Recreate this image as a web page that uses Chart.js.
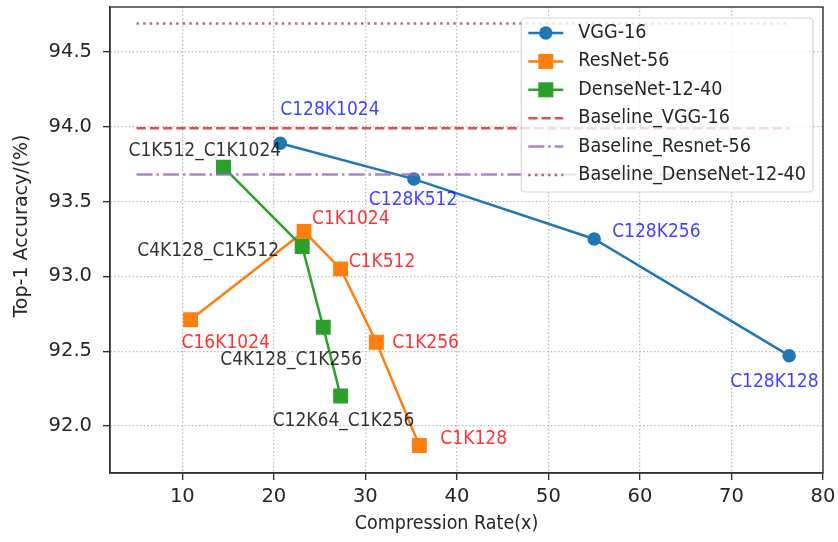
<!DOCTYPE html>
<html><head><meta charset="utf-8">
<script src="https://cdn.jsdelivr.net/npm/chart.js@4/dist/chart.umd.min.js"></script>
<style>html,body{margin:0;padding:0;background:#fff;} #wrap{width:838px;height:542px;}</style>
</head><body><div id="wrap"><canvas id="c" width="838" height="542"></canvas></div>
<script>
// ---- data ----
const vggLabels = ['C128K1024', 'C128K512', 'C128K256', 'C128K128'];
const vggX = [20.7, 35.3, 55.0, 76.3];
const vggY = [93.89, 93.65, 93.25, 92.47];

const resLabels = ['C16K1024', 'C1K1024', 'C1K512', 'C1K256', 'C1K128'];
const resX = [10.9, 23.3, 27.3, 31.2, 35.9];
const resY = [92.71, 93.30, 93.05, 92.56, 91.87];

const denseLabels = ['C1K512_C1K1024', 'C4K128_C1K512', 'C4K128_C1K256', 'C12K64_C1K256'];
const denseX = [14.5, 23.1, 25.4, 27.3];
const denseY = [93.73, 93.20, 92.66, 92.20];

const baselineX = [5, 76.3];
const baseVGG = 93.99;
const baseRes = 93.68;
const baseDense = 94.69;

const xTicks = [10, 20, 30, 40, 50, 60, 70, 80];
const yTicks = [92.0, 92.5, 93.0, 93.5, 94.0, 94.5];

const seriesNames = ['VGG-16', 'ResNet-56', 'DenseNet-12-40', 'Baseline_VGG-16', 'Baseline_Resnet-56', 'Baseline_DenseNet-12-40'];

// ---- styling (not data) ----
const FONT = '"DejaVu Sans", "Liberation Sans", sans-serif';
const FONT_C = '"DejaVu Sans Condensed", "DejaVu Sans", sans-serif';
const FS_TICK = 19.5, FS_ANN = 19, FS_LEG = 19.6, FS_XT = 19.5, FS_YT = 19;
const C_BLUE = '#1f77b4', C_ORANGE = '#ff7f0e', C_GREEN = '#2ca02c';
const C_RED = 'rgba(214,39,40,0.8)', C_PURPLE = 'rgba(148,103,189,0.8)', C_BROWN = 'rgba(140,86,75,0.8)';
const LW = 2.5;
const DASH_RED = [9.25, 4];
const DASH_PURPLE = [16, 4, 2.5, 4];
const DASH_BROWN = [2.5, 4.1];
const TXT = '#262626';

// label offsets in pixels: text left edge and vertical middle relative to the point
const vggOff = [[0, -33], [-45, 21], [18, -7], [-59, 26]];
const resOff = [[-9, 23], [8, -12], [8, -7], [16, 1], [21, -6]];
const denseOff = [[-95, -16], [-165, 5], [-103, 33], [-68, 25]];
const LBL_BLUE = 'rgba(0,0,255,0.75)', LBL_RED = 'rgba(255,0,0,0.8)', LBL_BLACK = 'rgba(0,0,0,0.8)';

const pts = (xs, ys) => xs.map((x, i) => ({x: x, y: ys[i]}));
const flat = (y) => baselineX.map(x => ({x: x, y: y}));

const datasets = [
  {label: seriesNames[0], data: pts(vggX, vggY), borderColor: C_BLUE, backgroundColor: C_BLUE,
   borderWidth: LW, pointStyle: 'circle', pointRadius: 6, pointBorderWidth: 1.5, order: 6},
  {label: seriesNames[1], data: pts(resX, resY), borderColor: C_ORANGE, backgroundColor: C_ORANGE,
   borderWidth: LW, pointStyle: 'rect', pointRadius: 9.5, pointBorderWidth: 1.5, order: 5},
  {label: seriesNames[2], data: pts(denseX, denseY), borderColor: C_GREEN, backgroundColor: C_GREEN,
   borderWidth: LW, pointStyle: 'rect', pointRadius: 9.5, pointBorderWidth: 1.5, order: 4},
  {label: seriesNames[3], data: flat(baseVGG), borderColor: C_RED, borderWidth: LW, borderDash: DASH_RED, pointRadius: 0, order: 3},
  {label: seriesNames[4], data: flat(baseRes), borderColor: C_PURPLE, borderWidth: LW, borderDash: DASH_PURPLE, pointRadius: 0, order: 2},
  {label: seriesNames[5], data: flat(baseDense), borderColor: C_BROWN, borderWidth: LW, borderDash: DASH_BROWN, pointRadius: 0, order: 1}
];

const legendStyle = [
  {color: C_BLUE, dash: [], marker: 'circle'},
  {color: C_ORANGE, dash: [], marker: 'rect'},
  {color: C_GREEN, dash: [], marker: 'rect'},
  {color: C_RED, dash: DASH_RED},
  {color: C_PURPLE, dash: DASH_PURPLE},
  {color: C_BROWN, dash: DASH_BROWN}
];

const annotPlugin = {
  id: 'annot',
  afterDatasetsDraw(chart) {
    const ctx = chart.ctx, a = chart.chartArea;
    const xs = chart.scales.x, ys = chart.scales.y;
    // frame (spines)
    ctx.save();
    ctx.strokeStyle = '#333';
    ctx.lineWidth = 1.4;
    ctx.strokeRect(a.left, a.top, a.right - a.left, a.bottom - a.top);
    ctx.restore();
    // point labels
    ctx.save();
    ctx.font = FS_ANN + 'px ' + FONT_C;
    ctx.textAlign = 'left';
    ctx.textBaseline = 'middle';
    const groups = [
      [vggLabels, vggX, vggY, vggOff, LBL_BLUE],
      [resLabels, resX, resY, resOff, LBL_RED],
      [denseLabels, denseX, denseY, denseOff, LBL_BLACK]
    ];
    groups.forEach(([labs, gx, gy, off, col]) => {
      ctx.fillStyle = col;
      labs.forEach((t, i) => {
        const px = xs.getPixelForValue(gx[i]) + off[i][0];
        const py = ys.getPixelForValue(gy[i]) + off[i][1];
        ctx.fillText(t, px, py);
      });
    });
    ctx.restore();
  },
  afterDraw(chart) {
    const ctx = chart.ctx, a = chart.chartArea;
    // axis titles
    ctx.save();
    ctx.fillStyle = TXT;
    ctx.textAlign = 'center';
    ctx.textBaseline = 'middle';
    ctx.font = FS_XT + 'px ' + FONT_C;
    ctx.fillText('Compression Rate(x)', (a.left + a.right) / 2 - 20, a.bottom + 51);
    ctx.font = FS_YT + 'px ' + FONT;
    ctx.translate(a.left - 88, (a.top + a.bottom) / 2 - 14);
    ctx.rotate(-Math.PI / 2);
    ctx.fillText('Top-1 Accuracy/(%)', 0, 0);
    ctx.restore();

    // legend
    ctx.save();
    ctx.font = FS_LEG + 'px ' + FONT_C;
    const pad = 7, handle = 35, hpad = 15, rowH = 28.4;
    let maxW = 0;
    seriesNames.forEach(t => { maxW = Math.max(maxW, ctx.measureText(t).width); });
    const w = pad * 2 + handle + hpad + maxW;
    const h = 174;
    const right = a.right - 10, top = a.top + 11;
    const left = right - w;
    ctx.beginPath();
    ctx.roundRect(left, top, w, h, 4);
    ctx.fillStyle = 'rgba(255,255,255,0.8)';
    ctx.fill();
    ctx.strokeStyle = 'rgba(204,204,204,0.8)';
    ctx.lineWidth = 1.2;
    ctx.stroke();
    seriesNames.forEach((t, i) => {
      const st = legendStyle[i];
      const cy = top + 15 + i * rowH;
      const x0 = left + pad, x1 = x0 + handle;
      ctx.save();
      ctx.strokeStyle = st.color;
      ctx.lineWidth = LW;
      ctx.setLineDash(st.dash);
      ctx.beginPath();
      ctx.moveTo(x0, cy);
      ctx.lineTo(x1, cy);
      ctx.stroke();
      ctx.setLineDash([]);
      ctx.fillStyle = st.color;
      const cx = (x0 + x1) / 2;
      if (st.marker === 'circle') {
        ctx.beginPath();
        ctx.arc(cx, cy, 6.7, 0, Math.PI * 2);
        ctx.fill();
      } else if (st.marker === 'rect') {
        ctx.fillRect(cx - 7.5, cy - 7.5, 15, 15);
      }
      ctx.restore();
      ctx.fillStyle = TXT;
      ctx.textAlign = 'left';
      ctx.textBaseline = 'middle';
      ctx.fillText(t, x1 + hpad, cy);
    });
    ctx.restore();
  }
};

new Chart(document.getElementById('c'), {
  type: 'line',
  data: {datasets: datasets},
  options: {
    responsive: false,
    animation: false,
    devicePixelRatio: 1,
    layout: {padding: {left: 0, top: 7, right: 15, bottom: 0}, autoPadding: false},
    plugins: {legend: {display: false}, tooltip: {enabled: false}},
    elements: {line: {tension: 0, fill: false}},
    scales: {
      x: {
        type: 'linear', min: 2.1, max: 80,
        afterFit: s => { s.height = 69; s.paddingLeft = 0; s.paddingRight = 0; },
        afterBuildTicks: s => { s.ticks = xTicks.map(v => ({value: v})); },
        ticks: {font: {family: FONT, size: FS_TICK}, color: TXT, padding: 5, maxRotation: 0,
                callback: v => String(v)},
        grid: {color: '#b8b8b8', lineWidth: 1.3, tickLength: 7, tickColor: '#333', tickWidth: 1.4, tickBorderDash: []},
        border: {display: true, color: '#333', width: 1.4, dash: [1.4, 2.3]}
      },
      y: {
        type: 'linear', min: 91.686, max: 94.80,
        afterFit: s => { s.width = 110; s.paddingTop = 0; s.paddingBottom = 0; },
        afterBuildTicks: s => { s.ticks = yTicks.map(v => ({value: v})); },
        ticks: {font: {family: FONT, size: FS_TICK}, color: TXT, padding: 11,
                callback: v => Number(v).toFixed(1)},
        grid: {color: '#b8b8b8', lineWidth: 1.3, tickLength: 7, tickColor: '#333', tickWidth: 1.4, tickBorderDash: []},
        border: {display: true, color: '#333', width: 1.4, dash: [1.4, 2.3]}
      }
    }
  },
  plugins: [annotPlugin]
});
</script>
</body></html>
